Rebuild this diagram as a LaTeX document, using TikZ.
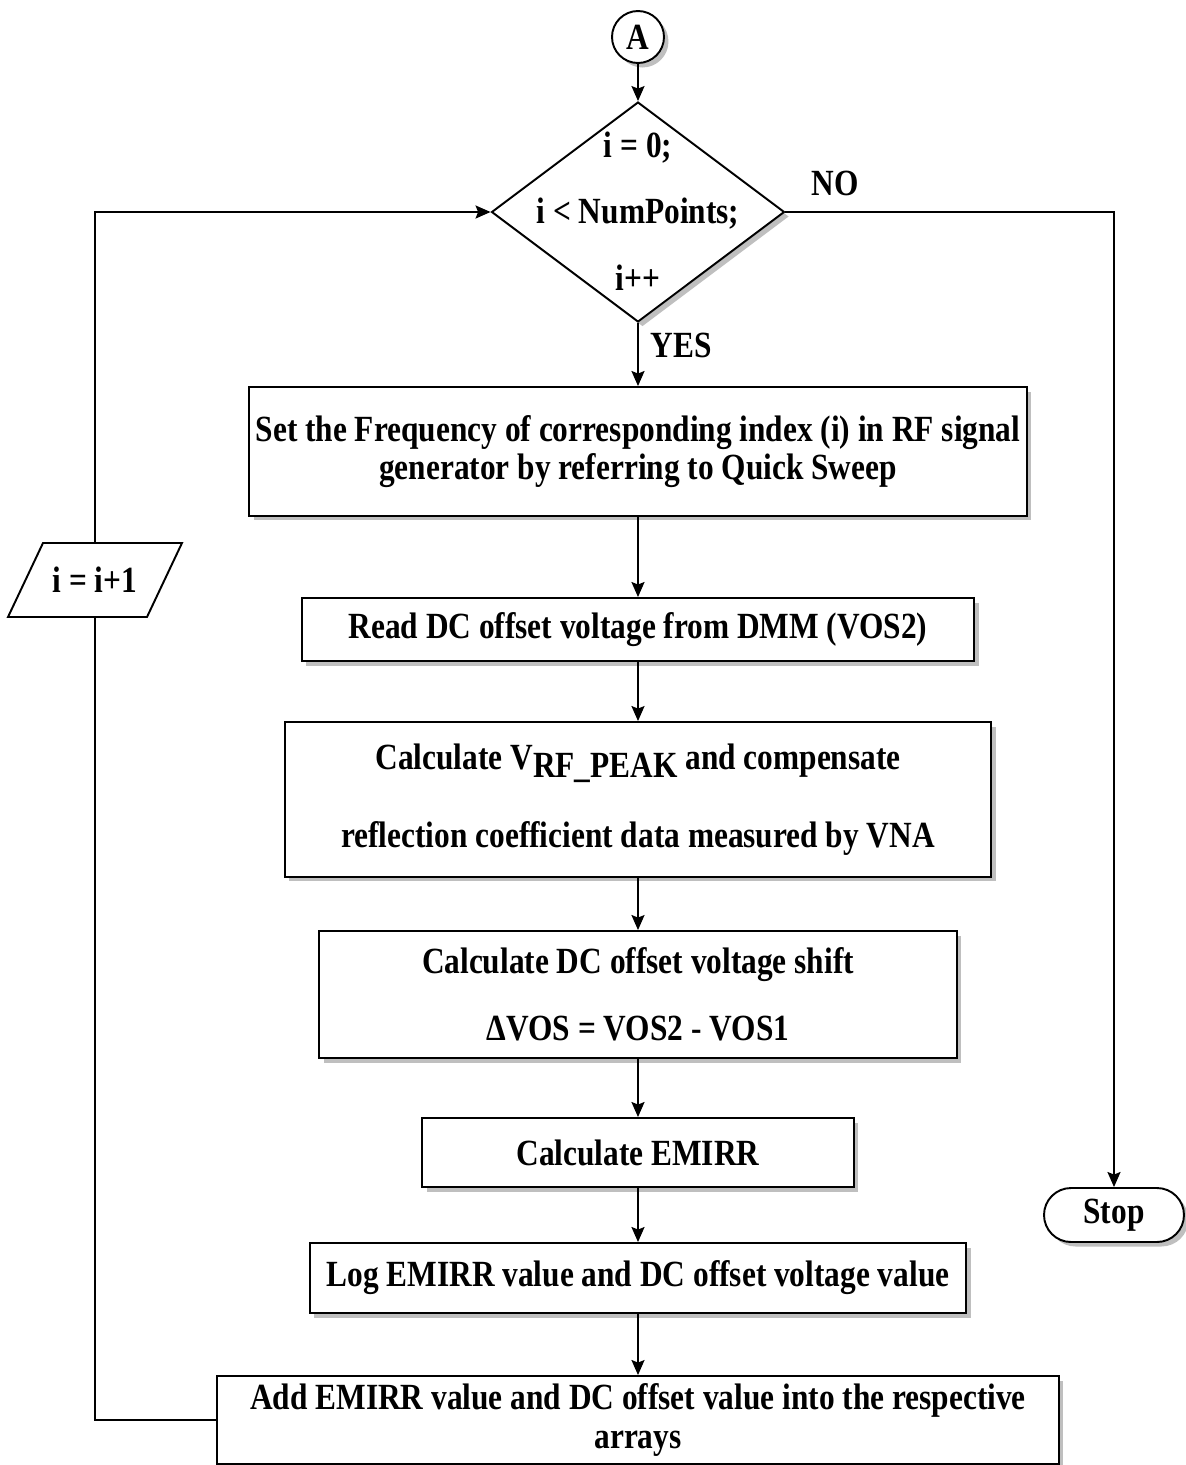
\documentclass[tikz,border=0pt]{standalone}
\usepackage{fontspec}
\setmainfont{Liberation Serif}[FakeStretch=0.85]
\usetikzlibrary{arrows.meta,shapes.geometric,shapes.misc,shadows}

\begin{document}
\begin{tikzpicture}[x=0.02cm,y=-0.02cm,
  every node/.style={font=\fontsize{21}{22}\selectfont\bfseries},
  boxshadow/.style={drop shadow={shadow xshift=0.09cm,shadow yshift=-0.09cm,fill=black!25,opacity=1}},
  proc/.style={draw,line width=1.1pt,fill=white,boxshadow,inner sep=0pt,align=center},
  decision/.style={draw,line width=1.1pt,fill=white,boxshadow,shape=diamond,inner sep=0pt},
  terminal/.style={draw,line width=1.1pt,fill=white,boxshadow,shape=rounded rectangle,inner sep=0pt},
  connector/.style={draw,line width=1.1pt,fill=white,boxshadow,circle,inner sep=0pt},
  txt/.style={inner sep=0pt,anchor=base},
  flow/.style={line width=1.1pt,-{Stealth[length=0.3cm,width=0.26cm,inset=0.05cm]}},
  link/.style={line width=1.1pt}
]
\useasboundingbox (0,0) rectangle (1186,1465);

% entry connector and loop test
\node[connector,minimum size=1.04cm] (A) at (638,37) {A};
\node[decision,minimum width=5.86cm,minimum height=4.4cm] (dec) at (638,212) {};
\node[txt] (t1) at (638,157) {i = 0;};
\node[txt] (t2) at (638,223) {i < NumPoints;};
\node[txt] (t3) at (638,290) {i++};

% loop body
\node[proc,minimum width=15.56cm,minimum height=2.58cm] (n1) at (638,451.5)
  {Set the Frequency of corresponding index (i) in RF signal\\ generator by referring to Quick Sweep};
\node[proc,minimum width=13.46cm,minimum height=1.26cm] (n2) at (638,629.5)
  {Read DC offset voltage from DMM (VOS2)};
\node[proc,minimum width=14.14cm,minimum height=3.10cm] (n3) at (638,799.5)
  {Calculate V\raisebox{-0.16cm}{RF\_PEAK} and compensate\\[21pt] reflection coefficient data measured by VNA};
\node[proc,minimum width=12.76cm,minimum height=2.54cm] (n4) at (638,994.5)
  {Calculate DC offset voltage shift\\[16pt] ΔVOS = VOS2 - VOS1};
\node[proc,minimum width=8.64cm,minimum height=1.38cm] (n5) at (638,1152.5)
  {Calculate EMIRR};
\node[proc,minimum width=13.14cm,minimum height=1.40cm] (n6) at (638,1278)
  {Log EMIRR value and DC offset voltage value};
\node[proc,minimum width=16.84cm,minimum height=1.76cm] (n7) at (638,1420)
  {Add EMIRR value and DC offset value into the respective\\ arrays};

% increment step
\node[inner sep=0pt,minimum width=2.78cm,minimum height=1.48cm] (inc) at (95,580) {i = i+1};
\draw[line width=1.1pt,shift={(inc.center)}] (-52,-37) -- (87,-37) -- (52,37) -- (-87,37) -- cycle;

% exit
\node[terminal,minimum width=2.8cm,minimum height=1.08cm] (stop) at (1114,1215) {Stop};

% labels
\node[txt] (no) at (835,195) {NO};
\node[txt] (yes) at (681,357) {YES};

% connectors
\draw[flow] (A) -- (dec.north);
\draw[flow] (dec.south) -- (n1.north);
\draw[flow] (n1) -- (n2);
\draw[flow] (n2) -- (n3);
\draw[flow] (n3) -- (n4);
\draw[flow] (n4) -- (n5);
\draw[flow] (n5) -- (n6);
\draw[flow] (n6) -- (n7);
\draw[flow] (dec.east) -| (stop.north);
\draw[link] (n7.west) -| (inc.south);
\draw[flow] (inc.north) |- (dec.west);
\end{tikzpicture}
\end{document}
